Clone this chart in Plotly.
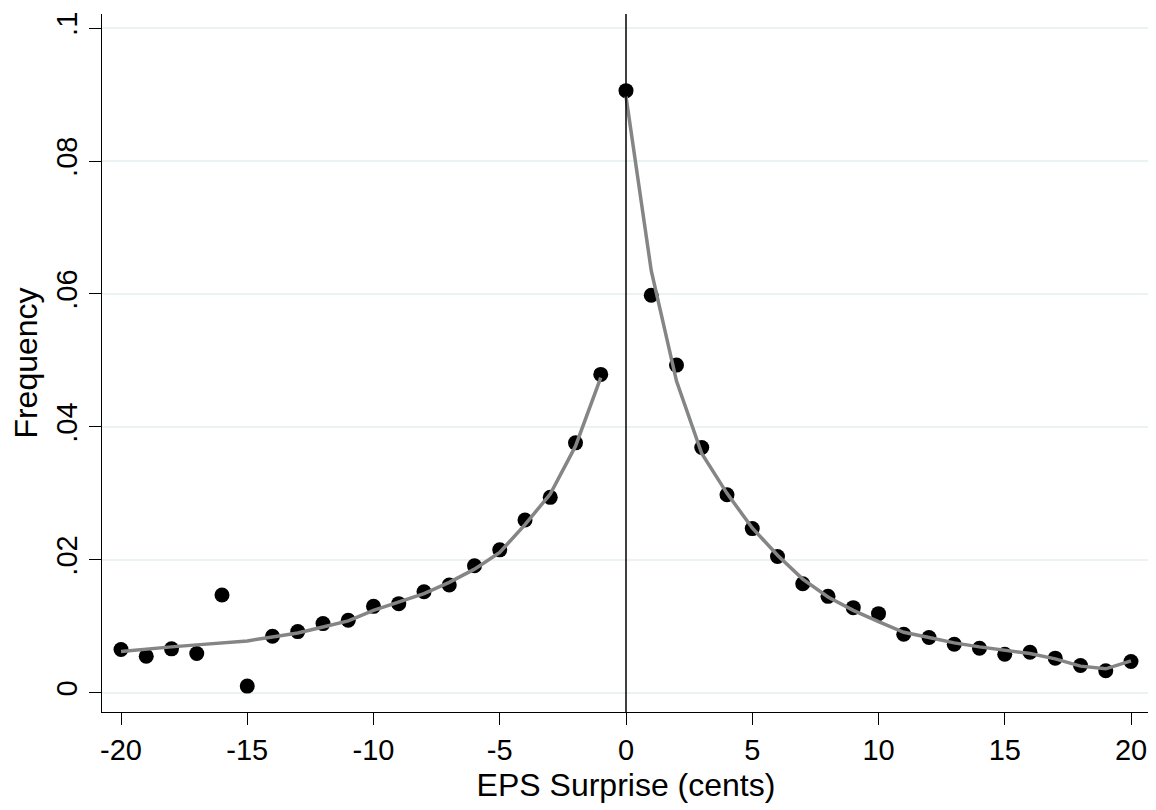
import plotly.graph_objects as go

# Observed frequencies by EPS surprise (cents)
surprise = list(range(-20, 21))
frequency = [
    0.0065, 0.0055, 0.0066, 0.0059, 0.0147, 0.0010, 0.0085, 0.0092, 0.0104, 0.0109,
    0.0130, 0.0134, 0.0152, 0.0162, 0.0191, 0.0215, 0.0260, 0.0294, 0.0376, 0.0479,
    0.0906, 0.0598, 0.0493, 0.0369, 0.0298, 0.0247, 0.0205, 0.0164, 0.0145, 0.0128,
    0.0119, 0.0088, 0.0083, 0.0073, 0.0067, 0.0058, 0.0061, 0.0052, 0.0041, 0.0033,
    0.0047,
]

# Smoothed fit, negative side (-20..-1) and non-negative side (0..20)
fit_neg_x = list(range(-20, 0))
fit_neg_y = [
    0.0062, 0.0066, 0.0069, 0.0072, 0.0075, 0.0078, 0.0084, 0.0090, 0.0099, 0.0108,
    0.0124, 0.0137, 0.0149, 0.0166, 0.0186, 0.0211, 0.0253, 0.0299, 0.0371, 0.0474,
]
fit_pos_x = list(range(0, 21))
fit_pos_y = [
    0.0897, 0.0635, 0.0469, 0.0360, 0.0300, 0.0248, 0.0207, 0.0171, 0.0144, 0.0124,
    0.0107, 0.0091, 0.0083, 0.0075, 0.0069, 0.0064, 0.0059, 0.0051, 0.0040, 0.0036,
    0.0048,
]

x_ticks = [-20, -15, -10, -5, 0, 5, 10, 15, 20]
x_ticktext = ["-20", "-15", "-10", "-5", "0", "5", "10", "15", "20"]
y_ticks = [0, 0.02, 0.04, 0.06, 0.08, 0.1]
y_ticktext = ["0", ".02", ".04", ".06", ".08", ".1"]

FONT = "Liberation Sans, Arial, Helvetica, sans-serif"
LINE_COLOR = "#858585"

fig = go.Figure()
fig.add_trace(go.Scatter(
    x=surprise, y=frequency, mode="markers",
    marker=dict(color="black", size=15, line=dict(width=0)),
    showlegend=False,
))
fig.add_trace(go.Scatter(
    x=fit_neg_x, y=fit_neg_y, mode="lines",
    line=dict(color=LINE_COLOR, width=3.5), showlegend=False,
))
fig.add_trace(go.Scatter(
    x=fit_pos_x, y=fit_pos_y, mode="lines",
    line=dict(color=LINE_COLOR, width=3.5), showlegend=False,
))

fig.add_shape(type="line", xref="x", yref="paper", x0=0, x1=0, y0=0, y1=1,
              line=dict(color="black", width=1.5), layer="above")

fig.update_layout(
    width=1148, height=802,
    margin=dict(l=94, r=6, t=4, b=98),
    paper_bgcolor="white", plot_bgcolor="white",
    font=dict(family=FONT, color="black", size=29),
    showlegend=False,
)
fig.update_xaxes(
    range=[-20.7525, 20.7525],
    tickmode="array", tickvals=x_ticks, ticktext=x_ticktext,
    ticks="outside", ticklen=12, tickwidth=1.3, tickcolor="black",
    showline=True, linecolor="black", linewidth=1.3,
    showgrid=False, zeroline=False,
    tickfont=dict(size=29, family=FONT),
    title=dict(text="EPS Surprise (cents)", font=dict(size=32, family=FONT), standoff=8),
)
fig.update_yaxes(
    range=[-0.0029, 0.10213],
    tickmode="array", tickvals=y_ticks, ticktext=y_ticktext, tickangle=-90,
    ticks="outside", ticklen=12, tickwidth=1.3, tickcolor="black",
    showline=True, linecolor="black", linewidth=1.3,
    showgrid=True, gridcolor="#eaf2f3", gridwidth=1.5, zeroline=False,
    tickfont=dict(size=29, family=FONT),
    title=dict(text="Frequency", font=dict(size=32, family=FONT), standoff=12),
)

fig.write_html("out.html")
